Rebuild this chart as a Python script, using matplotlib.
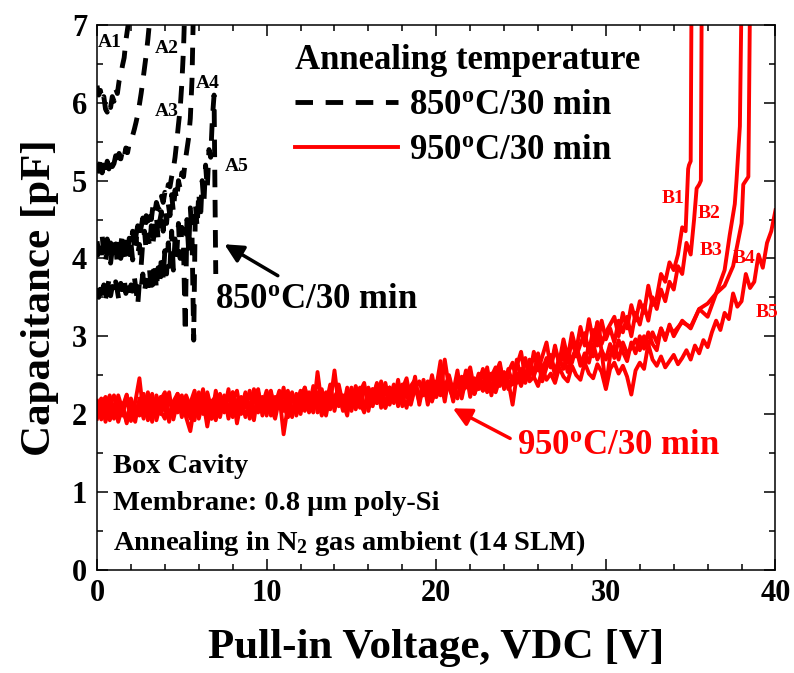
import numpy as np
import matplotlib
matplotlib.use("Agg")
import matplotlib.pyplot as plt
from matplotlib.ticker import MultipleLocator

plt.rcParams["font.family"] = ["Liberation Serif", "DejaVu Serif"]
plt.rcParams["font.weight"] = "bold"
plt.rcParams["axes.labelweight"] = "bold"
plt.rcParams["mathtext.fontset"] = "custom"
plt.rcParams["mathtext.rm"] = "Liberation Serif:bold"
plt.rcParams["mathtext.bf"] = "Liberation Serif:bold"
plt.rcParams["mathtext.it"] = "Liberation Serif:bold:italic"
plt.rcParams["lines.solid_joinstyle"] = "round"
plt.rcParams["lines.dash_joinstyle"] = "round"

# ---------------- 950 C / 30 min devices (B1..B5) ----------------
# common sweep 0 .. 30 V in 0.25 V steps
sweep_v = np.arange(0, 30.001, 0.25)

b1_base = [2.17, 1.93, 2.21, 1.99, 2.13, 1.90, 2.09, 2.25, 1.95, 2.15,
           2.46, 1.98, 2.20, 1.90, 2.24, 2.04, 1.94, 2.22, 2.00, 2.26,
           1.96, 2.24, 2.10, 1.92, 2.28, 2.02, 2.20, 1.94, 2.30, 2.04,
           2.24, 1.94, 2.18, 2.30, 2.00, 2.26, 2.08, 1.92, 2.28, 2.12,
           2.30, 1.98, 2.22, 2.08, 2.34, 1.96, 2.26, 2.12, 2.00, 2.30,
           2.06, 2.36, 2.02, 2.28, 2.12, 2.38, 2.04, 2.32, 2.16, 1.98,
           2.34, 2.06, 2.28, 2.40, 2.04, 2.32, 2.14, 2.42, 2.08, 2.34,
           2.14, 2.44, 2.10, 2.38, 2.20, 2.48, 2.12, 2.40, 2.22, 2.50,
           2.22, 2.46, 2.16, 2.50, 2.28, 2.56, 2.20, 2.46, 2.60, 2.30,
           2.52, 2.30, 2.60, 2.24, 2.52, 2.66, 2.34, 2.58, 2.38, 2.70,
           2.44, 2.72, 2.48, 2.80, 2.56, 2.74, 2.92, 2.60, 2.84, 2.66,
           2.96, 2.72, 3.04, 2.82, 3.12, 2.88, 3.22, 2.94, 3.18, 2.90,
           3.05]
b1_tail_v = [30.25, 30.5, 30.75, 31, 31.25, 31.5, 31.75, 32, 32.25, 32.5, 32.75, 33,
             33.25, 33.5, 33.75, 34, 34.25, 34.5, 34.7, 34.85, 34.9, 35.0, 35.05]
b1_tail_c = [3.15, 3.25, 3.00, 3.30, 3.10, 3.40, 3.20, 3.45, 3.30, 3.65, 3.40, 3.50,
             3.80, 3.70, 3.95, 3.85, 4.05, 4.40, 4.35, 5.15, 5.20, 5.25, 7.4]

b2_base = [2.00, 2.19, 1.90, 2.12, 2.24, 1.96, 2.14, 1.88, 2.20, 2.02,
           2.16, 2.26, 1.92, 2.12, 1.97, 2.22, 2.04, 2.28, 1.93, 2.16,
           2.24, 1.98, 2.14, 2.30, 1.94, 2.18, 1.84, 2.16, 2.00, 2.26,
           2.04, 2.32, 1.96, 2.18, 2.06, 2.28, 1.94, 2.20, 2.32, 1.98,
           2.18, 2.30, 2.02, 2.24, 1.74, 2.10, 2.28, 1.98, 2.20, 2.34,
           2.02, 2.24, 2.10, 2.32, 1.98, 2.26, 2.08, 2.38, 2.12, 2.28,
           2.04, 2.30, 2.16, 2.02, 2.34, 2.20, 2.40, 2.08, 2.32, 2.18,
           2.38, 2.10, 2.32, 2.46, 2.16, 2.36, 2.20, 2.44, 2.12, 2.38,
           2.22, 2.48, 2.26, 2.42, 2.16, 2.50, 2.30, 2.56, 2.22, 2.46,
           2.32, 2.58, 2.28, 2.52, 2.36, 2.62, 2.32, 2.54, 2.66, 2.40,
           2.58, 2.44, 2.70, 2.50, 2.78, 2.56, 2.72, 2.60, 2.88, 2.64,
           2.82, 2.66, 2.96, 2.74, 2.90, 3.04, 2.80, 3.08, 2.88, 3.20,
           2.96]
b2_tail_v = [30.25, 30.5, 30.75, 31, 31.25, 31.5, 31.75, 32, 32.25, 32.5, 32.75, 33,
             33.25, 33.5, 33.75, 34, 34.25, 34.5, 34.75, 35, 35.2, 35.35, 35.5, 35.6, 35.65]
b2_tail_c = [3.10, 2.92, 3.20, 3.05, 3.25, 3.00, 3.30, 3.15, 3.40, 3.20, 3.50, 3.35,
             3.60, 3.45, 3.70, 3.60, 3.90, 3.80, 4.20, 4.05, 4.50, 4.90, 4.95, 5.00, 7.4]

b3_base = [1.94, 2.12, 2.22, 1.92, 2.06, 2.18, 1.98, 2.24, 2.04, 1.90,
           2.20, 2.04, 2.28, 1.94, 2.14, 2.00, 2.22, 1.90, 2.16, 2.26,
           2.02, 2.18, 1.94, 2.24, 2.08, 2.32, 1.98, 2.16, 2.22, 1.96,
           2.20, 2.06, 2.28, 1.88, 2.16, 2.24, 2.02, 2.32, 2.10, 2.22,
           1.98, 2.26, 2.12, 2.30, 2.04, 2.20, 1.96, 2.26, 2.10, 2.34,
           2.14, 2.02, 2.54, 2.12, 2.28, 2.06, 2.22, 2.32, 2.04, 2.26,
           2.12, 2.36, 2.18, 2.04, 2.30, 2.16, 2.38, 2.22, 2.08, 2.34,
           2.16, 2.40, 2.24, 2.08, 2.36, 2.44, 2.18, 2.32, 2.42, 2.20,
           2.34, 2.68, 2.24, 2.44, 2.30, 2.20, 2.48, 2.34, 2.52, 2.26,
           2.44, 2.56, 2.32, 2.48, 2.60, 2.36, 2.54, 2.42, 2.12, 2.50,
           2.56, 2.40, 2.64, 2.48, 2.68, 2.42, 2.60, 2.72, 2.50, 2.64,
           2.76, 2.54, 2.72, 2.84, 2.62, 2.78, 2.66, 2.90, 2.70, 2.82,
           2.70]
b3_tail_v = [30.25, 30.5, 30.75, 31, 31.25, 31.5, 31.75, 32, 32.25, 32.5, 32.75, 33,
             33.25, 33.5, 33.75, 34, 34.5, 35, 35.5, 36, 36.5, 37, 37.3, 37.6, 37.7, 37.9, 38.0]
b3_tail_c = [2.90, 2.72, 2.95, 2.80, 2.68, 2.92, 2.78, 3.00, 2.84, 3.05, 2.90, 2.82,
             3.10, 2.95, 3.15, 3.00, 3.20, 3.10, 3.35, 3.25, 3.55, 3.85, 4.30, 4.70, 5.00, 5.70, 7.4]

b4_base = [2.16, 1.97, 2.10, 2.24, 1.94, 2.12, 2.02, 2.20, 1.91, 2.10,
           1.98, 2.18, 2.06, 2.26, 1.92, 2.14, 2.22, 1.96, 2.16, 2.02,
           2.20, 1.96, 1.78, 2.12, 2.22, 2.00, 2.28, 2.06, 1.92, 2.16,
           2.02, 2.24, 2.12, 1.96, 2.22, 2.08, 2.30, 2.00, 2.18, 2.06,
           2.26, 2.08, 1.94, 2.20, 2.10, 2.30, 2.02, 2.18, 2.26, 2.06,
           2.28, 2.10, 2.22, 1.98, 2.20, 2.32, 2.10, 2.26, 2.06, 2.34,
           2.16, 2.28, 2.08, 2.36, 2.20, 2.10, 2.32, 2.22, 2.40, 2.12,
           2.30, 2.16, 2.38, 2.24, 2.12, 2.34, 2.42, 2.24, 2.38, 2.16,
           2.42, 2.26, 2.36, 2.48, 2.22, 2.44, 2.30, 2.52, 2.36, 2.26,
           2.50, 2.36, 2.56, 2.30, 2.46, 2.60, 2.38, 2.54, 2.42, 2.62,
           2.80, 2.46, 2.62, 2.50, 2.70, 2.52, 2.64, 2.76, 2.54, 2.72,
           2.58, 2.80, 2.66, 2.86, 2.70, 2.62, 2.90, 2.74, 3.18, 2.80,
           2.35]
b4_tail_v = [30.25, 30.5, 30.75, 31, 31.25, 31.5, 31.75, 32, 32.25, 32.5, 32.75, 33,
             33.25, 33.5, 33.75, 34, 34.5, 35, 35.5, 36, 36.5, 37, 37.5, 38, 38.1, 38.4, 38.5]
b4_tail_c = [2.75, 2.88, 2.70, 2.92, 2.78, 2.85, 2.96, 2.82, 3.00, 2.88, 3.05, 2.92,
             3.10, 2.98, 3.12, 3.05, 3.18, 3.12, 3.35, 3.42, 3.55, 3.65, 3.90, 4.45, 4.95, 5.05, 7.4]

b5_base = [2.04, 2.20, 1.95, 2.14, 2.00, 2.24, 2.06, 1.90, 2.18, 2.00,
           2.14, 1.94, 2.22, 2.08, 1.98, 2.18, 2.28, 1.96, 2.10, 2.20,
           2.04, 2.16, 1.96, 2.24, 2.02, 2.14, 2.26, 1.94, 2.18, 2.06,
           2.16, 1.98, 2.28, 2.08, 2.20, 1.96, 2.12, 2.24, 2.02, 2.18,
           2.08, 2.22, 2.04, 2.28, 2.12, 1.96, 2.22, 2.12, 2.30, 2.04,
           2.20, 2.10, 2.28, 2.04, 2.22, 2.14, 2.56, 2.10, 2.24, 2.08,
           2.28, 2.12, 2.34, 2.08, 2.24, 2.32, 2.14, 2.30, 2.10, 2.34,
           2.20, 2.32, 2.14, 2.36, 2.22, 2.34, 2.16, 2.40, 2.26, 2.18,
           2.30, 2.24, 2.70, 2.34, 2.20, 2.40, 2.28, 2.36, 2.46, 2.26,
           2.40, 2.30, 2.48, 2.36, 2.28, 2.46, 2.52, 2.32, 2.42, 2.50,
           2.36, 2.54, 2.42, 2.48, 2.36, 2.58, 2.44, 2.52, 2.40, 2.60,
           2.48, 2.42, 2.62, 2.50, 2.44, 2.66, 2.52, 2.46, 2.64, 2.54,
           2.32]
b5_tail_v = np.arange(30.25, 40.001, 0.25)
b5_tail_c = [2.58, 2.66, 2.52, 2.62, 2.48, 2.25, 2.56, 2.66, 2.58, 2.90,
             2.70, 2.62, 2.74, 2.60, 2.68, 2.76, 2.64, 2.72, 2.82, 2.70,
             2.88, 2.78, 2.95, 2.86, 3.05, 3.20, 3.08, 3.30, 3.22, 3.55,
             3.38, 3.45, 3.80, 3.62, 3.70, 4.05, 3.88, 4.20, 4.35, 4.62]

# ---------------- 850 C / 30 min devices (A1..A5), 0.1 V steps ----------------
a1_c = [6.22, 6.10, 6.16, 6.02, 6.08, 5.92, 5.88, 6.00, 5.94, 6.08,
        6.02, 6.18, 6.12, 6.28, 6.35, 6.48, 6.58, 6.80, 6.95, 7.10, 7.40]
a2_c = [5.22, 5.12, 5.28, 5.10, 5.20, 5.08, 5.25, 5.15, 5.30, 5.18,
        5.22, 5.32, 5.20, 5.35, 5.28, 5.38, 5.30, 5.42, 5.36, 5.48,
        5.52, 5.58, 5.66, 5.75, 5.85, 5.98, 6.12, 6.28, 6.45, 6.62,
        6.82, 7.05, 7.40]
a3_c = [4.22, 4.08, 4.18, 4.30, 4.05, 4.15, 4.25, 4.02, 4.20, 4.12,
        4.28, 4.10, 4.22, 4.05, 4.18, 4.32, 4.12, 4.24, 4.08, 4.26,
        4.18, 4.35, 4.15, 4.30, 4.42, 4.25, 4.40, 4.52, 4.38, 4.55,
        4.48, 4.62, 4.50, 4.68, 4.58, 4.72, 4.65, 4.62, 4.80, 4.72,
        4.85, 4.80, 4.95, 4.92, 5.05, 5.15, 5.30, 5.50, 5.72, 5.92,
        6.25, 6.70, 7.40]
a4_c = [4.02, 4.14, 3.96, 4.10, 4.20, 3.98, 4.08, 4.16, 3.94, 4.12,
        4.04, 4.18, 3.92, 4.10, 4.00, 4.22, 4.06, 3.95, 4.15, 4.05,
        4.20, 3.98, 4.12, 4.28, 4.05, 4.18, 3.90, 4.22, 4.35, 4.10,
        4.30, 4.15, 4.42, 4.20, 4.38, 4.55, 4.25, 4.48, 4.60, 4.35,
        4.62, 4.45, 4.70, 4.55, 4.82, 4.60, 4.88, 4.75, 5.00, 4.90,
        5.10, 5.05, 5.25, 5.40, 5.55, 5.80, 6.30, 7.40]
a5_c = [3.62, 3.50, 3.70, 3.55, 3.66, 3.48, 3.60, 3.72, 3.52, 3.64,
        3.56, 3.70, 3.58, 3.45, 3.68, 3.60, 3.74, 3.55, 3.62, 3.50,
        3.66, 3.58, 3.76, 3.60, 3.40, 3.70, 3.62, 3.80, 3.58, 3.72,
        3.65, 3.85, 3.55, 3.78, 3.95, 3.60, 3.88, 3.70, 4.05, 3.75,
        4.10, 3.80, 4.20, 3.90, 4.35, 3.85, 4.25, 4.05, 4.45, 4.00,
        4.40, 4.15, 3.05, 4.50, 4.10, 4.65, 4.30, 2.95, 4.70, 4.40,
        4.85, 4.50, 5.00, 4.70, 5.20, 4.90, 5.40, 5.30, 5.80, 6.10,
        3.80]

red_curves = [
    (np.concatenate([sweep_v, b1_tail_v]), b1_base + b1_tail_c),
    (np.concatenate([sweep_v, b2_tail_v]), b2_base + b2_tail_c),
    (np.concatenate([sweep_v, b3_tail_v]), b3_base + b3_tail_c),
    (np.concatenate([sweep_v, b4_tail_v]), b4_base + b4_tail_c),
    (np.concatenate([sweep_v, b5_tail_v]), b5_base + b5_tail_c),
]
black_curves = [a1_c, a2_c, a3_c, a4_c, a5_c]

fig = plt.figure(figsize=(7.94, 6.73), dpi=100)
ax = fig.add_axes([0.1222, 0.1536, 0.8545, 0.8092])

RED = "#ff0000"
black_handles = []
for c in black_curves:
    v = np.round(np.arange(len(c)) * 0.1, 2)
    ln, = ax.plot(v, c, color="black", lw=3.5, dashes=(3.6, 2.6),
                  dash_capstyle="butt")
    black_handles.append(ln)

red_handles = []
for v, c in red_curves:
    ln, = ax.plot(v, c, color=RED, lw=2.8)
    red_handles.append(ln)

ax.set_xlim(0, 40)
ax.set_ylim(0, 7)
ax.xaxis.set_major_locator(MultipleLocator(10))
ax.xaxis.set_minor_locator(MultipleLocator(2))
ax.yaxis.set_major_locator(MultipleLocator(1))
ax.yaxis.set_minor_locator(MultipleLocator(0.5))
ax.tick_params(which="both", direction="in", top=True, right=True, width=1.1)
ax.tick_params(which="major", length=8, labelsize=22, pad=7)
ax.tick_params(which="minor", length=4.5)
for sp in ax.spines.values():
    sp.set_linewidth(1.1)

ax.set_xlabel("Pull-in Voltage, VDC [V]", fontsize=31, labelpad=15)
ax.set_ylabel("Capacitance [pF]", fontsize=31, labelpad=9)

# curve labels
a_labels = [("A1", 0.05, 6.77), ("A2", 3.4, 6.7), ("A3", 3.4, 5.89),
            ("A4", 5.8, 6.25), ("A5", 7.55, 5.18)]
for txt, x, y in a_labels:
    ax.text(x, y, txt, fontsize=14, color="black", ha="left", va="center")
b_labels = [("B1", 33.3, 4.77), ("B2", 35.4, 4.58), ("B3", 35.5, 4.1),
            ("B4", 37.5, 4.0), ("B5", 38.8, 3.3)]
for txt, x, y in b_labels:
    ax.text(x, y, txt, fontsize=14, color=RED, ha="left", va="center")

leg = ax.legend([black_handles[0], red_handles[0]],
                [r"850$^\mathbf{o}$C/30 min", r"950$^\mathbf{o}$C/30 min"],
                title="Annealing temperature", loc="upper left",
                bbox_to_anchor=(0.2918, 0.965), frameon=False, fontsize=25,
                title_fontproperties={"size": 25, "weight": "bold"},
                handlelength=2.97, handletextpad=0.3, labelspacing=0.35,
                borderpad=0, borderaxespad=0)
leg._legend_box.align = "left"

# annotations with arrows
ax.annotate("", xy=(7.37, 4.2), xytext=(10.8, 3.76),
            arrowprops=dict(arrowstyle="-|>", color="black", lw=2.5, mutation_scale=28))
ax.text(6.95, 3.47, r"850$^\mathbf{o}$C/30 min", fontsize=25, color="black",
        ha="left", va="center")
ax.annotate("", xy=(20.83, 2.09), xytext=(24.5, 1.67),
            arrowprops=dict(arrowstyle="-|>", color=RED, lw=2.5, mutation_scale=28))
ax.text(24.78, 1.6, r"950$^\mathbf{o}$C/30 min", fontsize=25, color=RED,
        ha="left", va="center")

# device notes
ax.text(0.94, 1.24, "Box Cavity", fontsize=20.5, ha="left", va="baseline")
ax.text(0.94, 0.77, "Membrane: 0.8 \u03bcm poly-Si", fontsize=20.5, ha="left", va="baseline")
ax.text(0.94, 0.25, r"Annealing in N$_\mathbf{2}$ gas ambient (14 SLM)", fontsize=20.5,
        ha="left", va="baseline")

fig.savefig("out.png", dpi=100)
